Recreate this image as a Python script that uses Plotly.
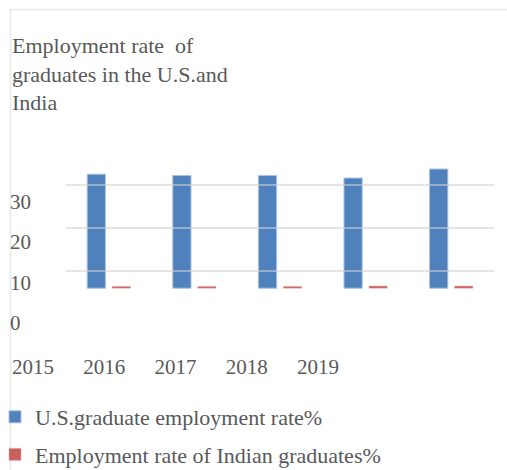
import plotly.graph_objects as go

YEARS = ["2015", "2016", "2017", "2018", "2019"]
US_RATE = [32.5, 32.2, 32.2, 31.6, 33.7]
INDIA_RATE = [6.4, 6.4, 6.4, 6.5, 6.5]
Y_TICKS = [0, 10, 20, 30]
GRID_TICKS = [10, 20, 30]
BAR_BASE = 6.0

W, H = 507, 470
FONT = "Liberation Serif"
GREY = "#595959"

def px_x(p):
    return p / W

def px_y(p):
    return (H - p) / H

fig = go.Figure()
fig.add_trace(go.Bar(
    x=YEARS, y=[v - BAR_BASE for v in US_RATE], base=BAR_BASE,
    name="U.S.graduate employment rate%", legendgroup="us",
    marker=dict(color="#4F81BD", line=dict(color="#a9c1e0", width=1)),
))
fig.add_trace(go.Bar(
    x=YEARS, y=[v - BAR_BASE for v in INDIA_RATE], base=BAR_BASE,
    name="Employment rate of Indian graduates%", legendgroup="in",
    marker=dict(color="#C9605D", line=dict(color="#e0a9a7", width=0.5)),
))
# helper trace for the label axes
fig.add_trace(go.Scatter(
    x=[0, len(YEARS) - 1], y=[Y_TICKS[0], Y_TICKS[-1]], xaxis="x2", yaxis="y2",
    mode="markers", marker=dict(opacity=0), showlegend=False, hoverinfo="skip",
))

x2_ppu = 71.25
x2_start = -33 / x2_ppu
y2_ppu = 4.05
y2_start = -(H - 323) / y2_ppu

shapes = [dict(type="rect", xref="paper", yref="paper",
               x0=px_x(10.5), x1=1.05, y0=-0.05, y1=px_y(9.5),
               line=dict(color="#e8e8e8", width=1.5), layer="below")]
for g in GRID_TICKS:
    shapes.append(dict(type="line", xref="x domain", yref="y", x0=0, x1=1, y0=g, y1=g,
                       line=dict(color="rgba(210,210,210,0.75)", width=1.5), layer="above"))

fig.update_layout(
    width=W, height=H,
    margin=dict(l=0, r=0, t=0, b=0, autoexpand=False),
    paper_bgcolor="white", plot_bgcolor="rgba(0,0,0,0)",
    font=dict(family=FONT, color=GREY, size=21),
    barmode="group", bargap=0.416, bargroupgap=0.27,
    title=dict(
        text="Employment rate&nbsp; of<br>graduates in the U.S.and<br>India",
        x=px_x(12), xanchor="left", xref="paper",
        y=px_y(53), yanchor="top", yref="paper",
        font=dict(family=FONT, size=22, color=GREY),
    ),
    xaxis=dict(domain=[px_x(66), px_x(494)], showticklabels=False, showgrid=False,
               zeroline=False, showline=False, ticks=""),
    yaxis=dict(domain=[px_y(314), px_y(160)], range=[0, 35.8], tickvals=GRID_TICKS,
               showticklabels=False, showgrid=False,
               zeroline=False, showline=False, ticks=""),
    xaxis2=dict(domain=[0, 1], range=[x2_start, x2_start + W / x2_ppu],
                tickvals=list(range(len(YEARS))), ticktext=YEARS,
                anchor="free", position=px_y(352), showgrid=False, zeroline=False,
                showline=False, ticks="", tickfont=dict(size=21, color=GREY)),
    yaxis2=dict(domain=[0, 1], range=[y2_start, y2_start + H / y2_ppu],
                tickvals=Y_TICKS, ticktext=[str(t) for t in Y_TICKS],
                anchor="free", position=px_x(9), side="right", showgrid=False,
                zeroline=False, showline=False, ticks="",
                tickfont=dict(size=21, color=GREY)),
    legend=dict(x=px_x(-5), xanchor="left", y=px_y(396), yanchor="top",
                orientation="v", traceorder="grouped", tracegroupgap=6,
                font=dict(family=FONT, size=22, color=GREY), bgcolor="rgba(0,0,0,0)"),
    showlegend=True,
    shapes=shapes,
)

fig.write_html("out.html")
